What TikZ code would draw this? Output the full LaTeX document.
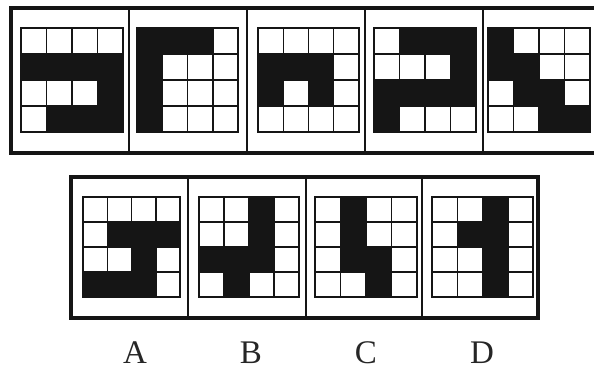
\documentclass[tikz,border=0pt]{standalone}
\usepackage{fontspec}
\setmainfont{Liberation Serif}
\definecolor{inkblack}{HTML}{151515}
\tikzset{
  outerframe/.style={line width=3.2pt, draw=inkblack},
  divider/.style={line width=1.8pt, draw=inkblack},
  cellline/.style={line width=1.4pt, draw=inkblack, fill=white},
  blackcell/.style={line width=1.4pt, draw=inkblack, fill=inkblack},
  gridframe/.style={line width=1.8pt, draw=inkblack},
  optlabel/.style={font=\fontsize{33}{36}\selectfont, text=black!85, anchor=base, inner sep=0pt},
}
\newcommand\puzzlegrid[5]{%
  \foreach \v [count=\k from 0] in {#5} {
    \pgfmathtruncatemacro\cc{mod(\k,4)}
    \pgfmathtruncatemacro\rr{int(\k/4)}
    \draw[cellline] ({#1+\cc*#3},{#2+\rr*#4}) rectangle ++(#3,#4);
  }
  \foreach \v [count=\k from 0] in {#5} {
    \pgfmathtruncatemacro\cc{mod(\k,4)}
    \pgfmathtruncatemacro\rr{int(\k/4)}
    \ifnum\v=1
      \draw[blackcell] ({#1+\cc*#3},{#2+\rr*#4}) rectangle ++(#3,#4);
    \fi
  }
  \draw[gridframe] (#1,#2) rectangle ++({4*#3},{4*#4});
}
\begin{document}
\begin{tikzpicture}[x=1pt,y=-1pt]
\useasboundingbox[fill=white] (0,0) rectangle (594,369);
% top strip
\draw[outerframe] (596,8) -- (11,8) -- (11,153) -- (596,153);
\foreach \d in {129,247,365,483} \draw[divider] (\d,8) -- (\d,153);
\puzzlegrid{21}{28}{25.5}{26}{0,0,0,0, 1,1,1,1, 0,0,0,1, 0,1,1,1}
\puzzlegrid{137}{28}{25.3}{26}{1,1,1,0, 1,0,0,0, 1,0,0,0, 1,0,0,0}
\puzzlegrid{258}{28}{25.2}{26}{0,0,0,0, 1,1,1,0, 1,0,1,0, 0,0,0,0}
\puzzlegrid{374}{28}{25.5}{26}{0,1,1,1, 0,0,0,1, 1,1,1,1, 1,0,0,0}
\puzzlegrid{488}{28}{25.5}{26}{1,0,0,0, 1,1,0,0, 0,1,1,0, 0,0,1,1}
% bottom strip
\draw[outerframe] (71,177) rectangle (538,318);
\foreach \d in {188,306,422} \draw[divider] (\d,177) -- (\d,318);
\puzzlegrid{83}{197}{24.3}{25}{0,0,0,0, 0,1,1,1, 0,0,1,0, 1,1,1,0}
\puzzlegrid{199}{197}{25}{25}{0,0,1,0, 0,0,1,0, 1,1,1,0, 0,1,0,0}
\puzzlegrid{315}{197}{25.5}{25}{0,1,0,0, 0,1,0,0, 0,1,1,0, 0,0,1,0}
\puzzlegrid{432}{197}{25.3}{25}{0,0,1,0, 0,1,1,0, 0,0,1,0, 0,0,1,0}
% labels
\node[optlabel] (labA) at (135,363) {A};
\node[optlabel] (labB) at (251,363) {B};
\node[optlabel] (labC) at (366,363) {C};
\node[optlabel] (labD) at (482,363) {D};
\end{tikzpicture}
\end{document}
